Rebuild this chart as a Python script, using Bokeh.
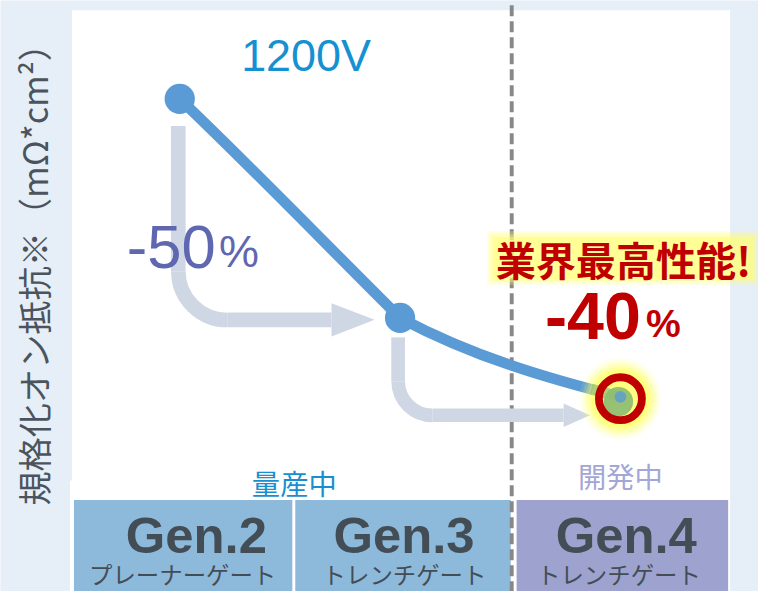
import math
from bokeh.plotting import figure
from bokeh.models import Range1d
from bokeh.core.properties import value
from bokeh.embed import file_html
from bokeh.resources import INLINE

# ---------------- data ----------------
generations = ["Gen.2", "Gen.3", "Gen.4"]
gate_types = ["プレーナーゲート", "トレンチゲート", "トレンチゲート"]
resistance = [100, 50, 32]          # normalised on-resistance
status_labels = ["量産中", "開発中"]
reduction_labels = ["-50", "-40"]
voltage_label = "1200V"
highlight_label = "業界最高性能!"
y_label = "規格化オン抵抗※（mΩ*cm²）"

# ---------------- layout helpers ----------------
W, H = 758, 591
REF_W, REF_H = 774, 607
FS = 0.977                    # screen-size scale (figure / reference)
PX0, PXS = 183, 225           # reference pixel of generation 0, pixels per generation
PY0, PYS = 551, 4.5           # reference pixel of value 0, pixels per unit


def X(px):
    return (px - PX0) / PXS


def Y(py):
    return (PY0 - py) / PYS


def px(i):
    return PX0 + PXS * i


def py(v):
    return PY0 - PYS * v


def fs(n):
    return f"{n * FS:.1f}px"


xi = list(range(len(generations)))

p = figure(width=W, height=H,
           x_range=Range1d(X(0), X(REF_W)),
           y_range=Range1d(Y(REF_H), Y(0)),
           output_backend="svg", toolbar_location=None,
           x_axis_type=None, y_axis_type=None, min_border=0)
p.outline_line_color = None
p.background_fill_color = "#E6EEF7"
p.border_fill_color = "#E6EEF7"
p.grid.visible = False

JP = value("Noto Sans CJK JP")
LAT = value("Liberation Sans")

# white panel
p.quad(left=[X(73)], right=[X(745)], top=[Y(10)], bottom=[Y(650)],
       fill_color="white", line_color=None)
p.quad(left=[X(71)], right=[X(80)], top=[Y(493)], bottom=[Y(650)],
       fill_color="white", line_color=None)

# generation boxes
box_l = [-108, -107, -106]
box_r = [115, 113, 110]
box_colors = ["#8DB9DB", "#8DB9DB", "#9EA2CF"]
p.quad(left=[X(px(i) + box_l[i]) for i in xi],
       right=[X(px(i) + box_r[i]) for i in xi],
       top=[Y(513)] * 3, bottom=[Y(650)] * 3,
       fill_color=box_colors, line_color=None)

# dashed divider between mass production and development
p.segment(x0=[X(522)], y0=[Y(5)], x1=[X(522)], y1=[Y(650)],
          line_color="#888888", line_width=4 * FS, line_dash="11 5")

# reduction arrows (from one generation down to the next level)
ARROW = "#CFD7E5"


def step_arrow(i, top_off, level_py, r, end_px, tip_px, half, w, xoff):
    x0 = px(i) + xoff
    yl = level_py
    p.segment(x0=[X(x0)], y0=[Y(py(resistance[i]) + top_off)],
              x1=[X(x0)], y1=[Y(yl - r)],
              line_color=ARROW, line_width=w * FS)
    p.arc(x=[X(x0 + r)], y=[Y(yl - r)], radius=r * FS, radius_units="screen",
          start_angle=math.pi, end_angle=1.5 * math.pi,
          line_color=ARROW, line_width=w * FS)
    p.segment(x0=[X(x0 + r)], y0=[Y(yl)], x1=[X(end_px)], y1=[Y(yl)],
              line_color=ARROW, line_width=w * FS)
    p.patch(x=[X(end_px), X(end_px), X(tip_px)],
            y=[Y(yl - half), Y(yl + half), Y(yl)],
            fill_color=ARROW, line_color=None)


step_arrow(0, 28, py(resistance[1]) + 2, 50, 338, 382, 17, 15, -1.5)
step_arrow(1, 20, py(resistance[2]) + 19, 35, 575, 602, 12, 14, -2)

# blue trend curve (two bezier segments through the data points)
BLUE = "#5B9BD5"
c0 = [(75, 72), (75, 40)]
c1 = [(80, 80), (75, 19)]
for k in range(2):
    a, b = k, k + 1
    p.bezier(x0=[X(px(a))], y0=[resistance[a]],
             x1=[X(px(b))], y1=[resistance[b]],
             cx0=[X(px(a) + c0[k][0])], cy0=[Y(py(resistance[a]) + c0[k][1])],
             cx1=[X(px(b) - c1[k][0])], cy1=[Y(py(resistance[b]) - c1[k][1])],
             line_color=BLUE, line_width=11 * FS)

# markers for Gen.2 and Gen.3
p.scatter(x=xi[:2], y=resistance[:2], size=31 * FS, fill_color=BLUE, line_color=None)

# Gen.4 highlight: yellow glow, green fill, red ring
g4x, g4y = xi[2], resistance[2]
for s, a in [(84, 0.10), (78, 0.16), (72, 0.24), (66, 0.36), (60, 0.55)]:
    p.scatter(x=[g4x], y=[Y(py(g4y) + 2)], size=s * FS, fill_color="#FFFF66",
              fill_alpha=a, line_color=None)
p.segment(x0=[X(px(2) - 30)], y0=[Y(py(g4y) - 8)], x1=[X(px(2) - 5)], y1=[Y(py(g4y) - 1)],
          line_color="#8DBB72", line_width=11 * FS, line_alpha=0.6)
p.scatter(x=[X(px(2) - 2)], y=[Y(py(g4y) + 5)], size=30 * FS, fill_color="#8DBB72",
          fill_alpha=0.9, line_color=None)
p.scatter(x=[g4x], y=[g4y], size=12 * FS, fill_color=BLUE, fill_alpha=0.8, line_color=None)
p.scatter(x=[g4x], y=[Y(py(g4y) + 2)], size=44 * FS, fill_color=None,
          line_color="#C00000", line_width=8 * FS)

# voltage title (y = cap-height centre)
p.text(x=[X(312)], y=[Y(56)], text=[voltage_label], text_font=LAT,
       text_font_size=fs(46), text_color="#1591D2",
       text_align="center", text_baseline="middle")

# -50%
p.text(x=[X(129)], y=[Y(253)], text=[reduction_labels[0]], text_font=LAT,
       text_font_size=fs(63), text_color="#5F67B1",
       text_align="left", text_baseline="middle")
p.text(x=[X(223)], y=[Y(258)], text=["%"], text_font=LAT,
       text_font_size=fs(46), text_color="#5F67B1",
       text_align="left", text_baseline="middle")

# highlight text with glow
for (l, r, t, b, a) in [(497, 773, 237, 292, 0.25), (500, 771, 240, 289, 0.35),
                        (503, 769, 243, 286, 0.45)]:
    p.quad(left=[X(l)], right=[X(r)], top=[Y(t)], bottom=[Y(b)],
           fill_color="#FFFF70", fill_alpha=a, line_color=None)
p.text(x=[X(636)], y=[Y(265)], text=[highlight_label], text_font=JP,
       text_font_size=fs(41), text_font_style="bold", text_color="#C00000",
       text_align="center", text_baseline="middle")

# -40%
p.text(x=[X(556)], y=[Y(324)], text=[reduction_labels[1]], text_font=LAT,
       text_font_size=fs(68), text_font_style="bold", text_color="#C00000",
       text_align="left", text_baseline="middle")
p.text(x=[X(659)], y=[Y(332)], text=["%"], text_font=LAT,
       text_font_size=fs(40), text_font_style="bold", text_color="#C00000",
       text_align="left", text_baseline="middle")

# status labels
p.text(x=[X(300), X(633)], y=[Y(495), Y(488)], text=status_labels, text_font=JP,
       text_font_size=fs(29), text_color=["#1A8FD0", "#A3A6D6"],
       text_align="center", text_baseline="middle")

# generation labels
gen_dx = [17, 4, 6]
p.text(x=[X(px(i) + gen_dx[i]) for i in xi], y=[Y(549)] * 3, text=generations,
       text_font=LAT, text_font_size=fs(52), text_font_style="bold",
       text_color="#434D56", text_align="center", text_baseline="middle")
gate_dx = [3, 4.5, -1.5]
p.text(x=[X(px(i) + gate_dx[i]) for i in xi], y=[Y(589)] * 3, text=gate_types,
       text_font=JP, text_font_size=fs(24), text_color="#434D56",
       text_align="center", text_baseline="middle")

# y-axis label
p.text(x=[X(33)], y=[Y(273)], text=[y_label], text_font=JP,
       text_font_size=fs(35), text_color="#4B545D", angle=math.pi / 2,
       text_align="center", text_baseline="middle")

open("out.html", "w").write(file_html(p, INLINE))
